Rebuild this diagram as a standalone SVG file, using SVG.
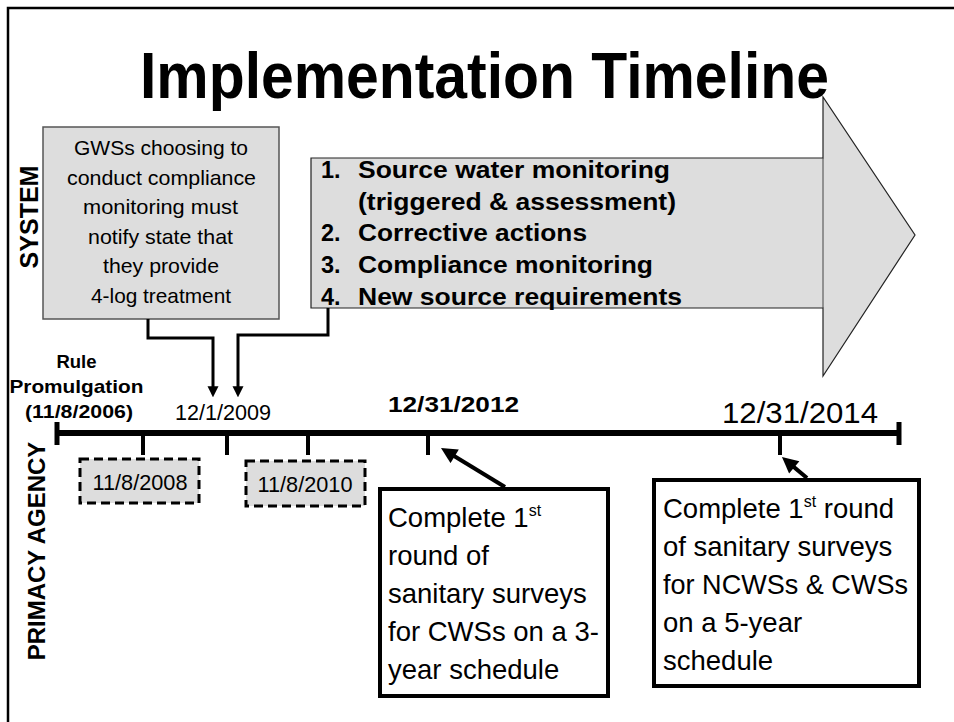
<svg xmlns="http://www.w3.org/2000/svg" width="954" height="722" viewBox="0 0 954 722">
<style>
  text { font-family: "Liberation Sans", Arial, sans-serif; fill: #000; }
  .b { font-weight: bold; }
  .gray { fill: #dddddd; }
  .conn { fill: none; stroke: #000; stroke-width: 3; }
  .call { fill: none; stroke: #000; stroke-width: 4; }
  .tick { stroke: #000; stroke-width: 4; }
</style>
<defs>
  <marker id="ahS" viewBox="0 0 12 12" markerUnits="userSpaceOnUse" markerWidth="11" markerHeight="12" refX="4" refY="6" orient="auto">
    <path d="M0,0 L12,6 L0,12 z" fill="#000"/>
  </marker>
  <marker id="ahL" viewBox="0 0 16 16" markerUnits="userSpaceOnUse" markerWidth="17" markerHeight="16" refX="5" refY="8" orient="auto">
    <path d="M0,0 L16,8 L0,16 z" fill="#000"/>
  </marker>
</defs>
<rect width="954" height="722" fill="#fff"/>
<g id="frame">
  <path d="M8,722 V8 H954" fill="none" stroke="#000" stroke-width="2.5"/>
</g>
<g id="title">
  <text class="b" x="140" y="98" font-size="64" textLength="689" lengthAdjust="spacingAndGlyphs">Implementation Timeline</text>
</g>
<g id="label-system">
  <text class="b" font-size="25" text-anchor="middle" transform="translate(38,217) rotate(-90)">SYSTEM</text>
</g>
<g id="label-primacy">
  <text class="b" font-size="24" text-anchor="middle" transform="translate(45,551) rotate(-90)">PRIMACY AGENCY</text>
</g>
<g id="big-arrow">
  <path d="M311,158 H823 V97 L915,235 L823,376 V308 H311 Z" class="gray" stroke="#222" stroke-width="1.2"/>
  <line x1="823" y1="158" x2="823" y2="308" stroke="#444" stroke-width="1"/>
  <text class="b" font-size="23.5">
    <tspan x="321" y="178">1.</tspan><tspan x="358" y="178" textLength="312" lengthAdjust="spacingAndGlyphs">Source water monitoring</tspan>
    <tspan x="358" y="210" textLength="318" lengthAdjust="spacingAndGlyphs">(triggered &amp; assessment)</tspan>
    <tspan x="321" y="241">2.</tspan><tspan x="358" y="241" textLength="229" lengthAdjust="spacingAndGlyphs">Corrective actions</tspan>
    <tspan x="321" y="273">3.</tspan><tspan x="358" y="273" textLength="295" lengthAdjust="spacingAndGlyphs">Compliance monitoring</tspan>
    <tspan x="321" y="305">4.</tspan><tspan x="358" y="305" textLength="324" lengthAdjust="spacingAndGlyphs">New source requirements</tspan>
  </text>
</g>
<g id="gws-box">
  <rect x="43" y="127" width="236" height="192" class="gray" stroke="#555" stroke-width="1.5"/>
  <text font-size="21">
    <tspan x="74" y="155" textLength="174" lengthAdjust="spacingAndGlyphs">GWSs choosing to</tspan>
    <tspan x="67" y="184.5" textLength="189" lengthAdjust="spacingAndGlyphs">conduct compliance</tspan>
    <tspan x="83" y="214" textLength="155" lengthAdjust="spacingAndGlyphs">monitoring must</tspan>
    <tspan x="88" y="243.5" textLength="145" lengthAdjust="spacingAndGlyphs">notify state that</tspan>
    <tspan x="103" y="273" textLength="116" lengthAdjust="spacingAndGlyphs">they provide</tspan>
    <tspan x="91" y="302.5" textLength="140" lengthAdjust="spacingAndGlyphs">4-log treatment</tspan>
  </text>
</g>
<g id="connectors">
  <path class="conn" d="M148,319 V338 H213 V390" marker-end="url(#ahS)"/>
  <path class="conn" d="M328,308 V335 H238 V390" marker-end="url(#ahS)"/>
  <line class="call" x1="505" y1="487" x2="450.4" y2="453.7" marker-end="url(#ahL)"/>
  <line class="call" x1="807" y1="478" x2="790.4" y2="464.1" marker-end="url(#ahL)"/>
</g>
<g id="timeline">
  <line x1="57" y1="433" x2="901" y2="433" stroke="#000" stroke-width="6"/>
  <line x1="57" y1="422" x2="57" y2="445" stroke="#000" stroke-width="5"/>
  <line x1="899" y1="422" x2="899" y2="445" stroke="#000" stroke-width="5"/>
  <line class="tick" x1="143" y1="433" x2="143" y2="455"/>
  <line class="tick" x1="227" y1="433" x2="227" y2="455"/>
  <line class="tick" x1="308" y1="433" x2="308" y2="455"/>
  <line class="tick" x1="428" y1="433" x2="428" y2="455"/>
  <line class="tick" x1="780" y1="433" x2="780" y2="455"/>
</g>
<g id="rule-promulgation">
  <text class="b" font-size="18.5" text-anchor="middle">
    <tspan x="79" y="368">Rule</tspan>
    <tspan x="79" y="393" textLength="134" lengthAdjust="spacingAndGlyphs">Promulgation</tspan>
    <tspan x="79" y="418" textLength="108" lengthAdjust="spacingAndGlyphs">(11/8/2006)</tspan>
  </text>
</g>
<g id="date-2009">
  <text x="175" y="420" font-size="22.5" textLength="96" lengthAdjust="spacingAndGlyphs">12/1/2009</text>
</g>
<g id="date-2012">
  <text class="b" x="388" y="412" font-size="22" textLength="131" lengthAdjust="spacingAndGlyphs">12/31/2012</text>
</g>
<g id="date-2014">
  <text x="722" y="423" font-size="29" textLength="156" lengthAdjust="spacingAndGlyphs">12/31/2014</text>
</g>
<g id="box-2008">
  <rect x="80" y="459" width="119" height="44" class="gray" stroke="#000" stroke-width="3" stroke-dasharray="9,5"/>
  <text x="140" y="490" font-size="22.5" text-anchor="middle" textLength="95" lengthAdjust="spacingAndGlyphs">11/8/2008</text>
</g>
<g id="box-2010">
  <rect x="246" y="461" width="119" height="45" class="gray" stroke="#000" stroke-width="3" stroke-dasharray="9,5"/>
  <text x="305" y="492" font-size="22.5" text-anchor="middle" textLength="95" lengthAdjust="spacingAndGlyphs">11/8/2010</text>
</g>
<g id="box-cws">
  <rect x="380" y="489" width="228" height="207" fill="#fff" stroke="#000" stroke-width="4"/>
  <text font-size="27.5">
    <tspan x="388" y="527">Complete 1</tspan><tspan font-size="16" dy="-11">st</tspan>
    <tspan x="388" y="565">round of</tspan>
    <tspan x="388" y="603">sanitary surveys</tspan>
    <tspan x="388" y="641">for CWSs on a 3-</tspan>
    <tspan x="388" y="679">year schedule</tspan>
  </text>
</g>
<g id="box-ncws">
  <rect x="654" y="480" width="265" height="206" fill="#fff" stroke="#000" stroke-width="4"/>
  <text font-size="27.5">
    <tspan x="663" y="518">Complete 1</tspan><tspan font-size="16" dy="-11">st</tspan><tspan dy="11"> round</tspan>
    <tspan x="663" y="556">of sanitary surveys</tspan>
    <tspan x="663" y="594" textLength="245" lengthAdjust="spacingAndGlyphs">for NCWSs &amp; CWSs</tspan>
    <tspan x="663" y="632">on a 5-year</tspan>
    <tspan x="663" y="670">schedule</tspan>
  </text>
</g>
</svg>
